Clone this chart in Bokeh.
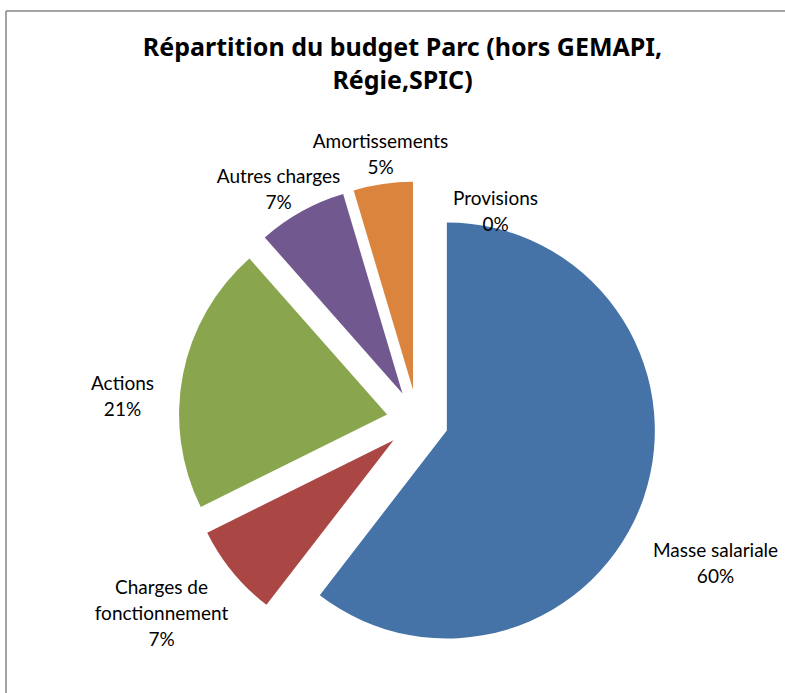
import math
from bokeh.plotting import figure
from bokeh.models import Range1d, ColumnDataSource
from bokeh.core.properties import value
from bokeh.embed import file_html
from bokeh.resources import INLINE

# ---------------- data ----------------
categories = ["Masse salariale", "Charges de fonctionnement", "Actions",
              "Autres charges", "Amortissements", "Provisions"]
shares = [60.4, 7.2, 20.8, 6.9, 4.6, 0.0]          # % of budget
colors = ["#4572A7", "#AA4643", "#89A54E", "#71588F", "#DB843D", "#4198AF"]
title_lines = ["Répartition du budget Parc (hors GEMAPI,", "Régie,SPIC)"]
label_lines = {"Charges de fonctionnement": ["Charges de", "fonctionnement"]}

# ---------------- layout (screen px, y downwards) ----------------
W, H = 785, 693
CX, CY = 417, 420          # pie centre
R = 208                    # radius
EXPLODE = 31               # explosion distance
label_pos = {              # baseline of first label line (centre x)
    "Masse salariale": (715, 557),
    "Charges de fonctionnement": (161, 594),
    "Actions": (122, 390),
    "Autres charges": (278, 183),
    "Amortissements": (380, 148),
    "Provisions": (495, 205),
}
LABEL_SHIFT = -8
LINE_H = 26
FONT = "Lato"

p = figure(width=W, height=H, output_backend="svg", toolbar_location=None,
           x_range=Range1d(0, W), y_range=Range1d(-H, 0),
           min_border=0, outline_line_color=None, background_fill_color="white",
           border_fill_color="white")
p.axis.visible = False
p.grid.visible = False

# ---------------- wedges ----------------
total = sum(shares)
xs, ys, sa, ea, cs = [], [], [], [], []
cum = 0.0
for v, c in zip(shares, colors):
    t1 = cum / total * 360.0
    t2 = (cum + v) / total * 360.0
    cum += v
    if v <= 0:
        continue
    tm = math.radians((t1 + t2) / 2)
    xs.append(CX + EXPLODE * math.sin(tm))
    ys.append(-(CY - EXPLODE * math.cos(tm)))
    sa.append(math.radians(90 - t1))
    ea.append(math.radians(90 - t2))
    cs.append(c)

src = ColumnDataSource(dict(x=xs, y=ys, start=sa, end=ea, color=cs))
p.wedge(x="x", y="y", radius=R, start_angle="start", end_angle="end",
        direction="clock", fill_color="color", line_color=None, source=src)

# ---------------- labels ----------------
tx, ty, tt = [], [], []
for cat, v in zip(categories, shares):
    lines = label_lines.get(cat, [cat]) + [f"{round(v)}%"]
    x0, y0 = label_pos[cat]
    for i, ln in enumerate(lines):
        tx.append(x0)
        ty.append(-(y0 + LABEL_SHIFT + i * LINE_H))
        tt.append(ln)
p.text(x=tx, y=ty, text=tt, text_font=value(FONT), text_font_size="19px",
       text_align="center", text_baseline="alphabetic", text_color="#000000")

# ---------------- title ----------------
p.text(x=[402, 402], y=[-45, -78], text=title_lines, text_font=value("Noto Sans"),
       text_font_size="25px", text_font_style="bold", text_align="center",
       text_baseline="alphabetic", text_color="#000000")

# ---------------- chart frame (top and left edges visible) ----------------
p.segment(x0=[5.5, 5.5], y0=[-10.5, -10.5], x1=[W, 5.5], y1=[-10.5, -H],
          line_color="#868686", line_width=1.5)

open("out.html", "w").write(file_html(p, INLINE))
